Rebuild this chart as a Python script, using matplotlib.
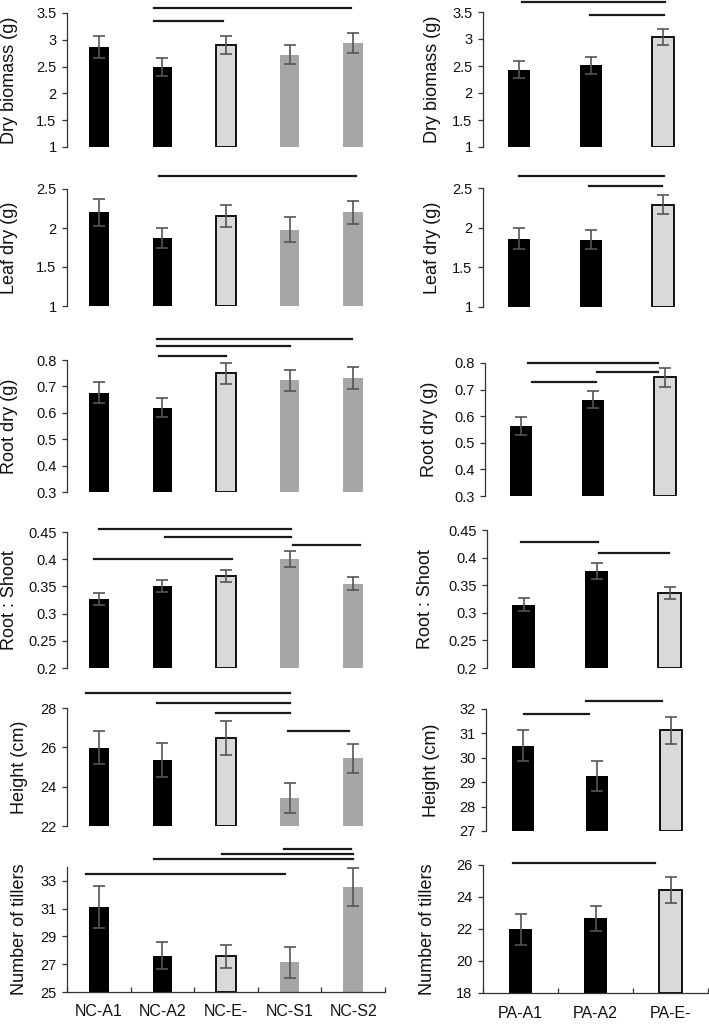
import numpy as np
import matplotlib
matplotlib.use('Agg')
import matplotlib.pyplot as plt
from matplotlib.ticker import FuncFormatter

plt.rcParams['font.family'] = ['Liberation Sans', 'DejaVu Sans']

NC_CATS = ['NC-A1', 'NC-A2', 'NC-E-', 'NC-S1', 'NC-S2']
PA_CATS = ['PA-A1', 'PA-A2', 'PA-E-']
NC_COLORS = ['#000000', '#000000', '#d9d9d9', '#a6a6a6', '#a6a6a6']
PA_COLORS = ['#000000', '#000000', '#d9d9d9']

# NC column
nc_dry = [2.87, 2.49, 2.91, 2.72, 2.94]
nc_dry_err = [0.21, 0.17, 0.17, 0.18, 0.19]
nc_leaf = [2.20, 1.87, 2.15, 1.98, 2.20]
nc_leaf_err = [0.17, 0.13, 0.14, 0.16, 0.15]
nc_root = [0.676, 0.620, 0.750, 0.724, 0.733]
nc_root_err = [0.040, 0.036, 0.040, 0.040, 0.042]
nc_ratio = [0.326, 0.351, 0.369, 0.400, 0.355]
nc_ratio_err = [0.011, 0.011, 0.011, 0.015, 0.012]
nc_height = [25.98, 25.34, 26.49, 23.44, 25.44]
nc_height_err = [0.83, 0.86, 0.86, 0.76, 0.73]
nc_tillers = [31.13, 27.62, 27.57, 27.13, 32.56]
nc_tillers_err = [1.53, 0.97, 0.85, 1.12, 1.39]

# PA column
pa_dry = [2.43, 2.51, 3.04]
pa_dry_err = [0.16, 0.15, 0.15]
pa_leaf = [1.86, 1.85, 2.29]
pa_leaf_err = [0.13, 0.12, 0.12]
pa_root = [0.563, 0.662, 0.746]
pa_root_err = [0.034, 0.033, 0.036]
pa_ratio = [0.315, 0.376, 0.336]
pa_ratio_err = [0.011, 0.015, 0.011]
pa_height = [30.50, 29.25, 31.13]
pa_height_err = [0.62, 0.63, 0.56]
pa_tillers = [21.98, 22.67, 24.46]
pa_tillers_err = [0.98, 0.77, 0.81]

# significance bars: (from category, to category, y value)
nc_dry_sig = [(0.87, 3.97, 3.59), (0.87, 1.95, 3.36)]
nc_leaf_sig = [(0.94, 4.05, 2.67)]
nc_root_sig = [(0.92, 3.98, 0.878), (0.92, 3.01, 0.853), (0.95, 2.0, 0.816)]
nc_ratio_sig = [(0.01, 3.02, 0.455), (1.04, 3.02, 0.44), (3.05, 4.11, 0.4255), (-0.08, 2.1, 0.40)]
nc_height_sig = [(-0.2, 3.0, 28.75), (0.91, 3.0, 28.27), (1.85, 3.0, 27.75), (2.97, 3.93, 26.82)]
nc_tillers_sig = [(2.91, 3.96, 35.33), (1.93, 3.99, 34.94), (0.87, 4.0, 34.55), (-0.2, 2.93, 33.51)]
pa_dry_sig = [(0.04, 2.03, 3.69), (0.98, 2.01, 3.45)]
pa_leaf_sig = [(0.0, 2.01, 2.655), (0.97, 1.98, 2.525)]
pa_root_sig = [(0.10, 1.90, 0.80), (1.05, 1.90, 0.765), (0.15, 1.04, 0.728)]
pa_ratio_sig = [(-0.03, 1.02, 0.428), (1.04, 1.99, 0.408)]
pa_height_sig = [(0.85, 1.88, 32.34), (0.01, 0.89, 31.80)]
pa_tillers_sig = [(-0.1, 1.79, 26.12)]

ylabels = ['Dry biomass (g)', 'Leaf dry (g)', 'Root dry (g)', 'Root : Shoot',
           'Height (cm)', 'Number of tillers']
nc_yticks = [[1, 1.5, 2, 2.5, 3, 3.5], [1, 1.5, 2, 2.5], [0.3, 0.4, 0.5, 0.6, 0.7, 0.8],
             [0.2, 0.25, 0.3, 0.35, 0.4, 0.45], [22, 24, 26, 28], [25, 27, 29, 31, 33]]
pa_yticks = [[1, 1.5, 2, 2.5, 3, 3.5], [1, 1.5, 2, 2.5], [0.3, 0.4, 0.5, 0.6, 0.7, 0.8],
             [0.2, 0.25, 0.3, 0.35, 0.4, 0.45], [27, 28, 29, 30, 31, 32], [18, 20, 22, 24, 26]]
nc_ylims = [(1, 3.5), (1, 2.5), (0.3, 0.8), (0.2, 0.45), (22, 28), (25, 34)]
pa_ylims = [(1, 3.5), (1, 2.5), (0.3, 0.8), (0.2, 0.45), (27, 32), (18, 26)]

nc_panels = [(nc_dry, nc_dry_err, nc_dry_sig), (nc_leaf, nc_leaf_err, nc_leaf_sig),
             (nc_root, nc_root_err, nc_root_sig), (nc_ratio, nc_ratio_err, nc_ratio_sig),
             (nc_height, nc_height_err, nc_height_sig), (nc_tillers, nc_tillers_err, nc_tillers_sig)]
pa_panels = [(pa_dry, pa_dry_err, pa_dry_sig), (pa_leaf, pa_leaf_err, pa_leaf_sig),
             (pa_root, pa_root_err, pa_root_sig), (pa_ratio, pa_ratio_err, pa_ratio_sig),
             (pa_height, pa_height_err, pa_height_sig), (pa_tillers, pa_tillers_err, pa_tillers_sig)]

W, H = 709, 1025
# axes boxes in pixels: left, top, width, bottom
nc_boxes = [(67, 13, 318, 147), (67, 189, 318, 306), (67, 360, 318, 492),
            (67, 532, 318, 668), (67, 708, 318, 826), (67, 867, 318, 992)]
pa_boxes = [(483, 12, 216, 147), (483, 188, 216, 307), (485, 363, 216, 496),
            (487, 530, 219, 668), (486, 709, 222, 831), (483, 865, 225, 993)]
nc_label_x = [18, 18, 18, 18, 28, 28]
pa_label_x = [441, 441, 438, 434, 440, 436]

fig = plt.figure(figsize=(W / 100, H / 100), dpi=100)


def draw_panel(box, cats, colors, vals, errs, sig, ylabel, yticks, ylim, label_x, bottom):
    x0, top, w, ybot = box
    ax = fig.add_axes([x0 / W, 1 - ybot / H, w / W, (ybot - top) / H])
    x = np.arange(len(cats))
    edges = ['#000000' if c == '#d9d9d9' else c for c in colors]
    lws = [1.3 if c == '#d9d9d9' else 0 for c in colors]
    ax.bar(x, np.array(vals) - ylim[0], bottom=ylim[0], width=0.31, color=colors,
           edgecolor=edges, linewidth=lws, zorder=2)
    ax.errorbar(x, vals, yerr=errs, fmt='none', ecolor='#555555', elinewidth=1.2,
                capsize=4, capthick=1.2, zorder=3)
    for a, b, y in sig:
        ax.plot([a, b], [y, y], color='#1a1a1a', lw=1.6, clip_on=False, zorder=4)
    ax.set_xlim(-0.5, len(cats) - 0.5)
    ax.set_ylim(*ylim)
    ax.set_yticks(yticks)
    ax.yaxis.set_major_formatter(FuncFormatter(lambda v, p: '%g' % v))
    ax.tick_params(axis='y', direction='out', length=3.5, width=0.9, pad=4,
                   labelsize=10.5, color='#333333', labelcolor='#111111')
    for s in ['top', 'right']:
        ax.spines[s].set_visible(False)
    ax.spines['left'].set_color('#333333')
    ax.spines['left'].set_linewidth(0.9)
    if bottom:
        ax.spines['bottom'].set_color('#333333')
        ax.spines['bottom'].set_linewidth(0.9)
        ax.set_xticks(np.arange(len(cats) + 1) - 0.5)
        ax.set_xticklabels([])
        ax.set_xticks(x, minor=True)
        ax.set_xticklabels(cats, minor=True)
        ax.tick_params(axis='x', which='major', direction='in', length=3.5, width=0.9,
                       color='#333333')
        ax.tick_params(axis='x', which='minor', length=0, pad=9, labelsize=11.5,
                       labelcolor='#111111')
    else:
        ax.spines['bottom'].set_visible(False)
        ax.set_xticks([])
    ax.set_ylabel(ylabel, fontsize=13, color='#111111')
    ax.yaxis.set_label_coords((label_x - x0) / w, 0.5)
    return ax


for i in range(6):
    vals, errs, sig = nc_panels[i]
    draw_panel(nc_boxes[i], NC_CATS, NC_COLORS, vals, errs, sig, ylabels[i],
               nc_yticks[i], nc_ylims[i], nc_label_x[i], i == 5)
    vals, errs, sig = pa_panels[i]
    draw_panel(pa_boxes[i], PA_CATS, PA_COLORS, vals, errs, sig, ylabels[i],
               pa_yticks[i], pa_ylims[i], pa_label_x[i], i == 5)

plt.savefig('out.png', dpi=100)
